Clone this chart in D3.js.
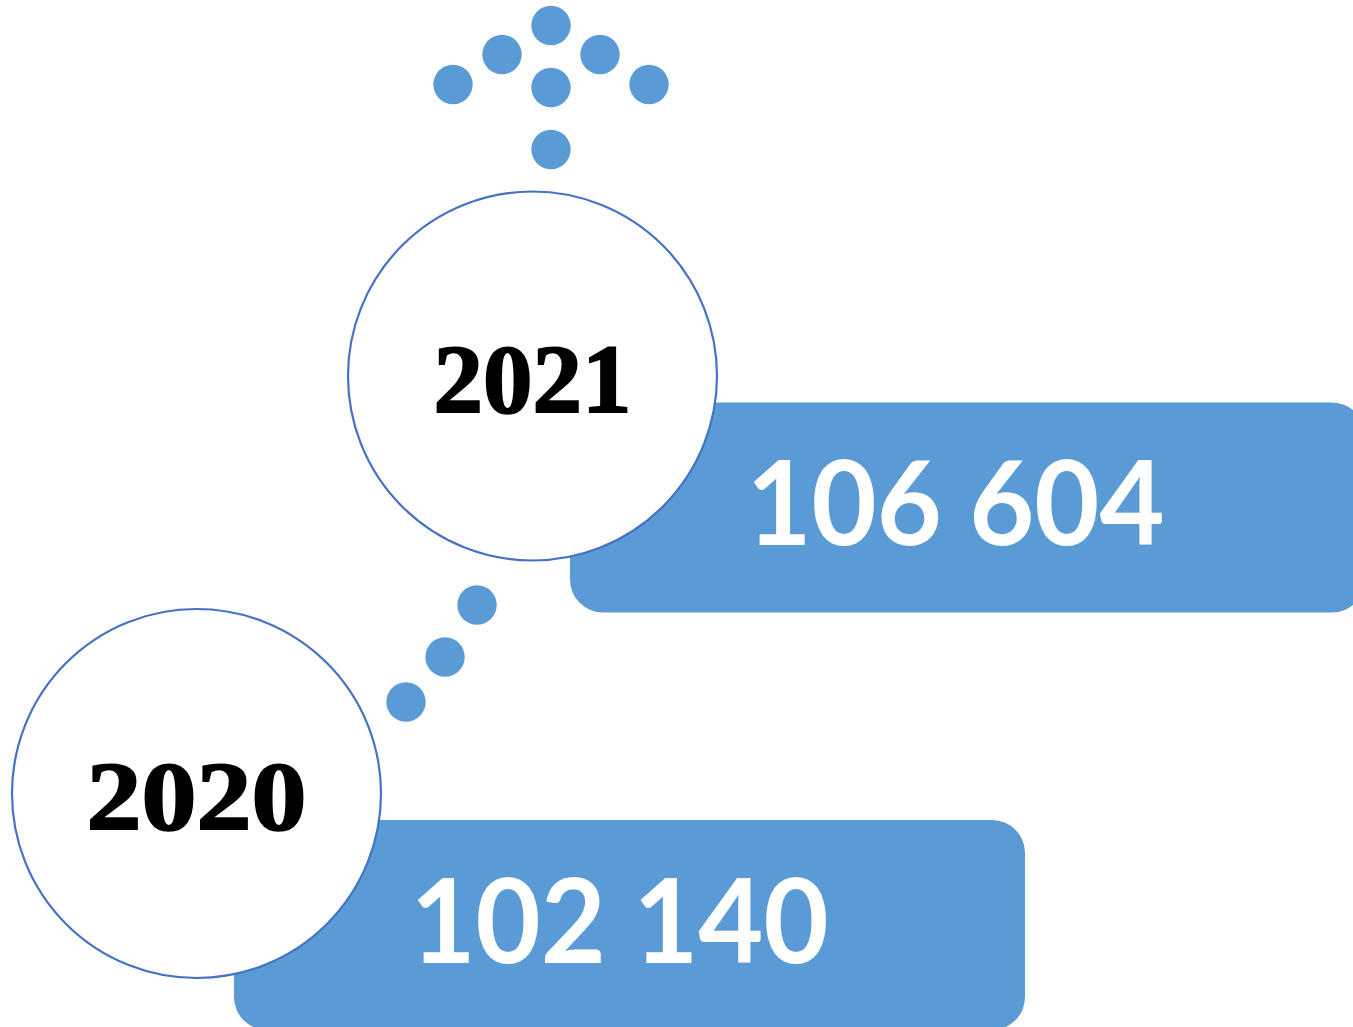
<!DOCTYPE html>
<html>
<head>
<meta charset="utf-8">
<script src="https://cdn.jsdelivr.net/npm/d3@7"></script>
<style>
  html, body { margin: 0; padding: 0; background: #fff; overflow: hidden; }
  svg { display: block; }
</style>
</head>
<body>
<svg id="chart" width="1353" height="1027"></svg>
<script>
// data
var years = ['2020', '2021'];
var values = [102140, 106604];

// decoration: arrow dots (offsets from arrow center) and connector dots
var arrowDots = [[0, -62], [-49, -33], [49, -33], [-98, -3], [0, 0], [98, -3], [0, 62]];
var linkDots = [[477, 605], [445, 657], [406, 702]];

var blue = '#5b9bd5',
    ring = '#4472c4';

var svg = d3.select('#chart');
var width = +svg.attr('width'),
    height = +svg.attr('height');

// step scales: index of the year -> circle center
var xScale = d3.scaleLinear().domain([0, 1]).range([196.5, 532.5]);
var yScale = d3.scaleLinear().domain([0, 1]).range([793.5, 376]);
var radius = 184.5;

var fmt = d3.formatLocale({decimal: ',', thousands: ' ', grouping: [3], currency: ['', '']}).format(',d');

var data = years.map(function (y, i) {
    return {year: y, value: values[i], i: i};
});

// value boxes (behind the circles)
var boxW = [791, 795];
var boxes = svg.selectAll('g.box')
    .data(data)
    .enter().append('g')
    .classed('box', true);

boxes.append('rect')
    .attr('x', function (d) { return xScale(d.i) + 37.5; })
    .attr('y', function (d) { return yScale(d.i) + 26.5; })
    .attr('width', function (d) { return boxW[d.i]; })
    .attr('height', 210)
    .attr('rx', 33)
    .attr('ry', 33)
    .attr('fill', blue);

boxes.append('text')
    .attr('x', function (d) { return xScale(d.i) + 214; })
    .attr('y', function (d) { return yScale(d.i) + 169; })
    .attr('font-family', 'Lato, "Open Sans", sans-serif')
    .attr('font-weight', 700)
    .attr('font-size', 117)
    .attr('fill', '#fff')
    .attr('textLength', 418)
    .attr('lengthAdjust', 'spacingAndGlyphs')
    .text(function (d) { return fmt(d.value); });

// year circles
var circles = svg.selectAll('g.year')
    .data(data)
    .enter().append('g')
    .classed('year', true);

circles.append('circle')
    .attr('cx', function (d) { return xScale(d.i); })
    .attr('cy', function (d) { return yScale(d.i); })
    .attr('r', radius)
    .attr('fill', '#fff')
    .attr('stroke', ring)
    .attr('stroke-width', 2.2);

circles.append('text')
    .attr('x', function (d) { return xScale(d.i); })
    .attr('y', function (d) { return yScale(d.i) + 35.5; })
    .attr('text-anchor', 'middle')
    .attr('font-family', '"Liberation Serif", "DejaVu Serif", serif')
    .attr('font-weight', 900)
    .attr('font-size', 98)
    .attr('fill', '#000')
    .attr('stroke', '#000')
    .attr('stroke-width', 2)
    .attr('textLength', function (d) { return d.i === 0 ? 220 : 198; })
    .attr('lengthAdjust', 'spacingAndGlyphs')
    .text(function (d) { return d.year; });

// dots
var arrowX = xScale(1) + 18.5,
    arrowY = 87.5;

svg.selectAll('circle.arrow')
    .data(arrowDots)
    .enter().append('circle')
    .classed('arrow', true)
    .attr('cx', function (d) { return arrowX + d[0]; })
    .attr('cy', function (d) { return arrowY + d[1]; })
    .attr('r', 19.7)
    .attr('fill', blue);

svg.selectAll('circle.link')
    .data(linkDots)
    .enter().append('circle')
    .classed('link', true)
    .attr('cx', function (d) { return d[0]; })
    .attr('cy', function (d) { return d[1]; })
    .attr('r', 19.7)
    .attr('fill', blue);
</script>
</body>
</html>
